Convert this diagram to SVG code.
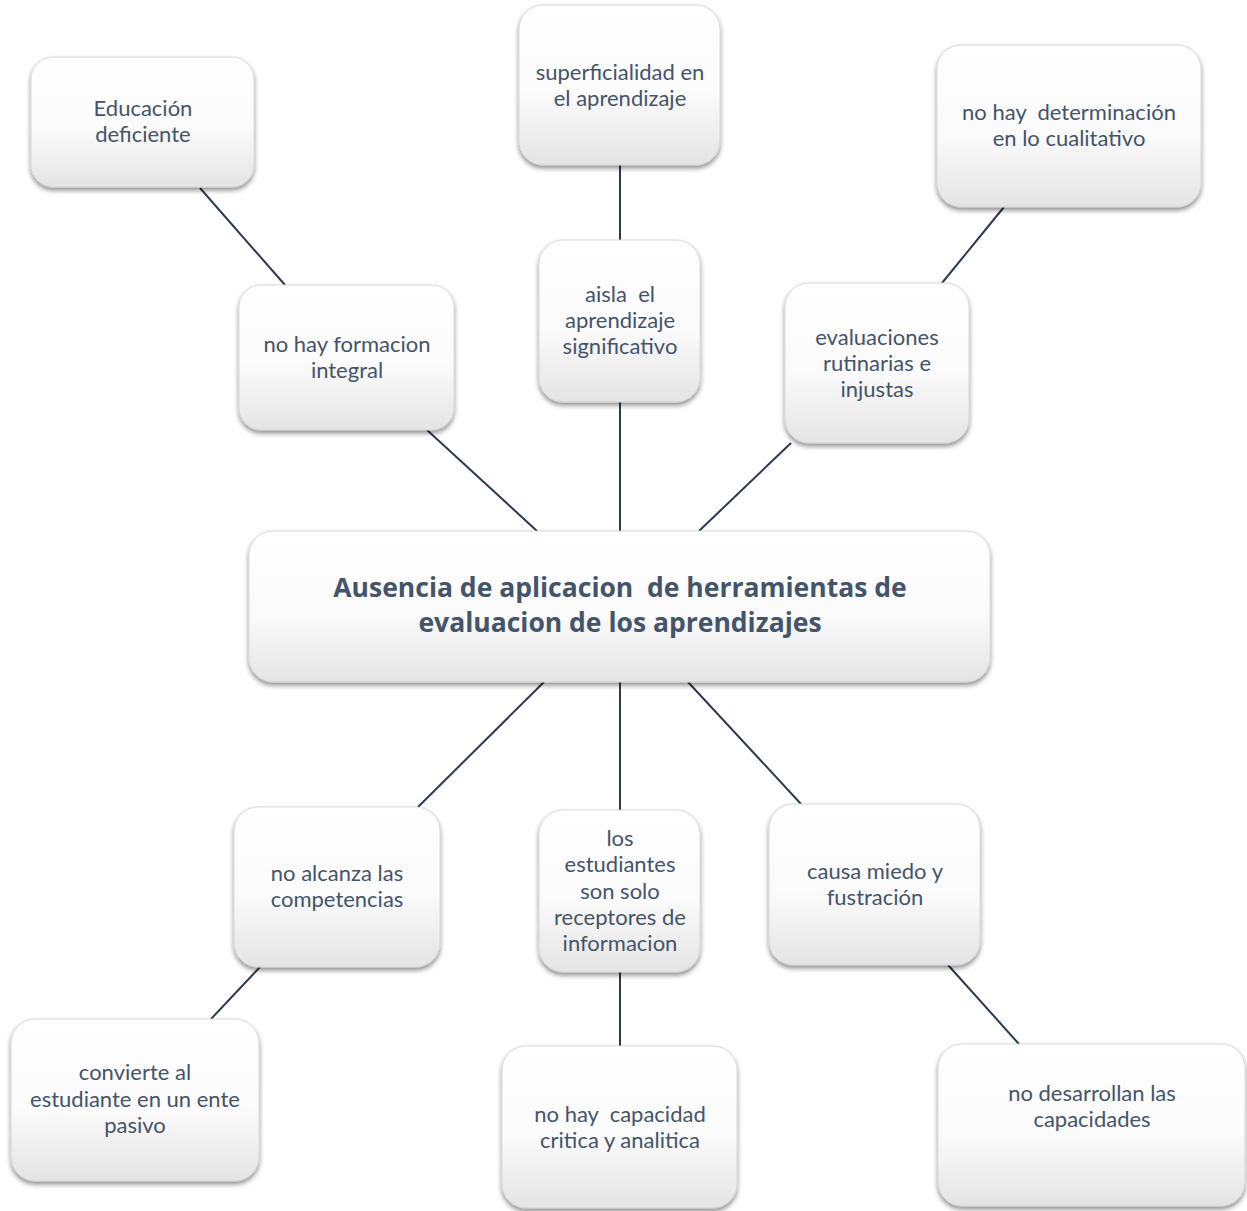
<svg xmlns="http://www.w3.org/2000/svg" width="1247" height="1211" viewBox="0 0 1247 1211">
<style>
.box{fill:url(#g);stroke:#d0d0d0;stroke-width:0.8;filter:url(#sh)}
.t{font-family:Lato,"Open Sans",sans-serif;font-size:22px;fill:#44546A;text-anchor:middle;white-space:pre}
.tb{font-family:"Open Sans",Lato,sans-serif;font-size:26.5px;font-weight:bold;fill:#44546A;text-anchor:middle;white-space:pre}
.c line{stroke:#2B3A4E;stroke-width:2}
</style>
<defs>
<linearGradient id="g" x1="0" y1="0" x2="0" y2="1">
<stop offset="0" stop-color="#ffffff"/><stop offset="0.55" stop-color="#fbfbfb"/><stop offset="1" stop-color="#e4e4e4"/>
</linearGradient>
<filter id="sh" x="-10%" y="-10%" width="120%" height="125%">
<feGaussianBlur in="SourceAlpha" stdDeviation="2.5"/><feOffset dx="0" dy="3" result="b"/>
<feComponentTransfer><feFuncA type="linear" slope="0.45"/></feComponentTransfer>
<feMerge><feMergeNode/><feMergeNode in="SourceGraphic"/></feMerge>
</filter>
</defs>
<rect width="1247" height="1211" fill="#fff"/>
<g class="c" id="connectors">
<line x1="200" y1="188" x2="285" y2="285"/>
<line x1="620" y1="165" x2="620" y2="240"/>
<line x1="1004" y1="207" x2="942" y2="283"/>
<line x1="427" y1="430" x2="537" y2="531"/>
<line x1="620" y1="402" x2="620" y2="531"/>
<line x1="791" y1="443" x2="699" y2="531"/>
<line x1="544" y1="682" x2="418" y2="807"/>
<line x1="620" y1="682" x2="620" y2="810"/>
<line x1="688" y1="682" x2="801" y2="804"/>
<line x1="260" y1="967" x2="211" y2="1019"/>
<line x1="620" y1="972" x2="620" y2="1046"/>
<line x1="948" y1="965" x2="1019" y2="1044"/>
</g>
<g id="n1"><rect class="box" x="31" y="57" width="223" height="130" rx="22"/>
<text class="t" x="143" y="116">Educación</text><text class="t" x="143" y="142">deficiente</text></g>
<g id="n2"><rect class="box" x="519" y="5" width="201" height="160" rx="24"/>
<text class="t" x="620" y="80">superficialidad en</text><text class="t" x="620" y="106">el aprendizaje</text></g>
<g id="n3"><rect class="box" x="937" y="45" width="264" height="162" rx="24"/>
<text class="t" x="1069" y="120">no hay  determinación</text><text class="t" x="1069" y="146">en lo cualitativo</text></g>
<g id="n4"><rect class="box" x="239" y="285" width="215" height="145" rx="22"/>
<text class="t" x="347" y="352">no hay formacion</text><text class="t" x="347" y="378">integral</text></g>
<g id="n5"><rect class="box" x="539" y="240" width="161" height="162" rx="24"/>
<text class="t" x="620" y="302">aisla  el</text><text class="t" x="620" y="328">aprendizaje</text><text class="t" x="620" y="354">significativo</text></g>
<g id="n6"><rect class="box" x="785" y="283" width="184" height="160" rx="24"/>
<text class="t" x="877" y="345">evaluaciones</text><text class="t" x="877" y="371">rutinarias e</text><text class="t" x="877" y="397">injustas</text></g>
<g id="n7"><rect class="box" x="249" y="531" width="741" height="151" rx="24"/>
<text class="tb" x="620" y="597">Ausencia de aplicacion  de herramientas de</text><text class="tb" x="620" y="632">evaluacion de los aprendizajes</text></g>
<g id="n8"><rect class="box" x="234" y="807" width="206" height="160" rx="24"/>
<text class="t" x="337" y="881">no alcanza las</text><text class="t" x="337" y="907">competencias</text></g>
<g id="n9"><rect class="box" x="539" y="810" width="161" height="162" rx="24"/>
<text class="t" x="620" y="846">los</text><text class="t" x="620" y="872">estudiantes</text><text class="t" x="620" y="899">son solo</text><text class="t" x="620" y="925">receptores de</text><text class="t" x="620" y="951">informacion</text></g>
<g id="n10"><rect class="box" x="769" y="804" width="211" height="161" rx="24"/>
<text class="t" x="875" y="879">causa miedo y</text><text class="t" x="875" y="905">fustración</text></g>
<g id="n11"><rect class="box" x="11" y="1019" width="248" height="162" rx="24"/>
<text class="t" x="135" y="1080">convierte al</text><text class="t" x="135" y="1107">estudiante en un ente</text><text class="t" x="135" y="1133">pasivo</text></g>
<g id="n12"><rect class="box" x="502" y="1046" width="235" height="162" rx="24"/>
<text class="t" x="620" y="1122">no hay  capacidad</text><text class="t" x="620" y="1148">critica y analitica</text></g>
<g id="n13"><rect class="box" x="938" y="1044" width="307" height="162" rx="24"/>
<text class="t" x="1092" y="1101">no desarrollan las</text><text class="t" x="1092" y="1127">capacidades</text></g>
</svg>
